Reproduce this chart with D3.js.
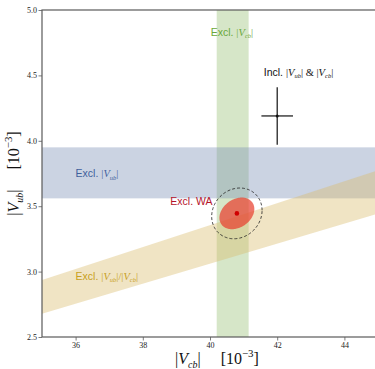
<!DOCTYPE html>
<html>
<head>
<meta charset="utf-8">
<script src="https://cdn.jsdelivr.net/npm/d3@7"></script>
<style>
  html, body { margin: 0; padding: 0; background: #fff; }
  svg { display: block; }
</style>
</head>
<body>
<svg id="chart" width="375" height="369"></svg>
<script>
/*
 |Vub| vs |Vcb| exclusion bands
*/

// axis ticks (in units of 10^-3)
const xTicks = [36, 38, 40, 42, 44];
const yTicks = [2.5, 3.0, 3.5, 4.0, 4.5, 5.0];
const xDomain = [35, 45];
const yDomain = [2.5, 5.0];

// exclusive |Vcb| band, exclusive |Vub| band, exclusive ratio band
const vcbExcl = [40.2, 41.15];
const vubExcl = [3.56, 3.95];
const ratioExcl = [0.0765, 0.0839];   // |Vub|/|Vcb|

// inclusive point with errors: [value, error]
const vcbIncl = [42.0, 0.47];
const vubIncl = [4.19, 0.22];

// exclusive world average: centre, half extents, correlation
const waCentre = [40.80, 3.445];
const waInner = { sx: 0.52, sy: 0.121, rho: 0.28 };
const waOuter = { sx: 0.75, sy: 0.194, rho: 0.12 };

const W = 375, H = 369;
const margin = { top: 10, bottom: 32, left: 42, right: -3 };

const serif = "'Liberation Serif', 'DejaVu Serif', serif";
const sans = "'Liberation Sans', Arial, sans-serif";

const svg = d3.select("#chart");

const x = d3.scaleLinear().domain(xDomain).range([margin.left, W - margin.right]);
const y = d3.scaleLinear().domain(yDomain).range([H - margin.bottom, margin.top]);

svg.append("defs").append("clipPath").attr("id", "plotclip")
    .append("rect")
    .attr("x", x(xDomain[0])).attr("y", y(yDomain[1]))
    .attr("width", x(xDomain[1]) - x(xDomain[0]))
    .attr("height", y(yDomain[0]) - y(yDomain[1]));

const plot = svg.append("g").attr("clip-path", "url(#plotclip)");

// green: exclusive |Vcb|
plot.append("rect")
    .attr("x", x(vcbExcl[0]))
    .attr("y", y(yDomain[1]))
    .attr("width", x(vcbExcl[1]) - x(vcbExcl[0]))
    .attr("height", y(yDomain[0]) - y(yDomain[1]))
    .attr("fill", "#98c075").attr("fill-opacity", 0.4);

// blue: exclusive |Vub|
plot.append("rect")
    .attr("x", x(xDomain[0]))
    .attr("y", y(vubExcl[1]))
    .attr("width", x(xDomain[1]) - x(xDomain[0]))
    .attr("height", y(vubExcl[0]) - y(vubExcl[1]))
    .attr("fill", "#7d91b6").attr("fill-opacity", 0.4);

// yellow: ratio band, lines through the origin
const ratioPoly = [
    [xDomain[0], ratioExcl[0] * xDomain[0]],
    [xDomain[1], ratioExcl[0] * xDomain[1]],
    [xDomain[1], ratioExcl[1] * xDomain[1]],
    [xDomain[0], ratioExcl[1] * xDomain[0]],
];
plot.append("path")
    .attr("d", d3.line().x(d => x(d[0])).y(d => y(d[1]))(ratioPoly) + "Z")
    .attr("fill", "#d9bb6b").attr("fill-opacity", 0.4);

// world average ellipses
function ellipsePath(c, e) {
    const pts = d3.range(0, 361, 3).map(a => {
        const t = a * Math.PI / 180;
        return [
            c[0] + e.sx * Math.cos(t),
            c[1] + e.sy * (e.rho * Math.cos(t) + Math.sqrt(1 - e.rho * e.rho) * Math.sin(t))
        ];
    });
    return d3.line().x(d => x(d[0])).y(d => y(d[1]))(pts) + "Z";
}

plot.append("path")
    .attr("d", ellipsePath(waCentre, waInner))
    .attr("fill", "#e8402f").attr("fill-opacity", 0.72);

plot.append("path")
    .attr("d", ellipsePath(waCentre, waOuter))
    .attr("fill", "none")
    .attr("stroke", "#222").attr("stroke-width", 0.8)
    .attr("stroke-dasharray", "3,2");

plot.append("circle")
    .attr("cx", x(waCentre[0])).attr("cy", y(waCentre[1]))
    .attr("r", 2.3).attr("fill", "#d00000");

// inclusive cross
const cross = plot.append("g").attr("stroke", "#111").attr("stroke-width", 1.2);
cross.append("line")
    .attr("x1", x(vcbIncl[0] - vcbIncl[1])).attr("x2", x(vcbIncl[0] + vcbIncl[1]))
    .attr("y1", y(vubIncl[0])).attr("y2", y(vubIncl[0]));
cross.append("line")
    .attr("x1", x(vcbIncl[0])).attr("x2", x(vcbIncl[0]))
    .attr("y1", y(vubIncl[0] - vubIncl[1])).attr("y2", y(vubIncl[0] + vubIncl[1]));
plot.append("circle")
    .attr("cx", x(vcbIncl[0])).attr("cy", y(vubIncl[0]))
    .attr("r", 1.5).attr("fill", "#111");

// frame
svg.append("rect")
    .attr("x", x(xDomain[0])).attr("y", y(yDomain[1]))
    .attr("width", x(xDomain[1]) - x(xDomain[0]))
    .attr("height", y(yDomain[0]) - y(yDomain[1]))
    .attr("fill", "none").attr("stroke", "#5a5a5a").attr("stroke-width", 1.2);

// axes
const xAxis = svg.append("g")
    .attr("transform", `translate(0,${y(yDomain[0])})`)
    .call(d3.axisBottom(x).tickValues(xTicks).tickSize(3.5).tickPadding(2).tickFormat(d3.format("d")));
const yAxis = svg.append("g")
    .attr("transform", `translate(${x(xDomain[0])},0)`)
    .call(d3.axisLeft(y).tickValues(yTicks).tickSize(3.5).tickPadding(1.5).tickFormat(d3.format(".1f")));

[xAxis, yAxis].forEach(g => {
    g.select(".domain").remove();
    g.selectAll(".tick line").attr("stroke", "#5a5a5a").attr("stroke-width", 0.8);
    g.selectAll(".tick text")
        .attr("font-family", serif).attr("font-size", 8).attr("fill", "#222");
});

// math-ish label helper: pieces of [text, kind]
function mathText(sel, parts, size) {
    parts.forEach(p => {
        const [txt, kind] = p;
        const t = sel.append("tspan").text(txt);
        if (kind === "sans") {
            t.attr("font-family", sans);
        } else if (kind === "it") {
            t.attr("font-family", serif).attr("font-style", "italic");
        } else if (kind === "sub") {
            t.attr("font-family", serif).attr("font-style", "italic")
                .attr("font-size", size * 0.62).attr("dy", size * 0.22);
        } else if (kind === "sup") {
            t.attr("font-family", serif)
                .attr("font-size", size * 0.68).attr("dy", -size * 0.42);
        } else if (kind === "up") {
            // back to baseline after sub
            t.attr("font-family", serif).attr("dy", -size * 0.22);
        } else if (kind === "down") {
            t.attr("font-family", serif).attr("dy", size * 0.42);
        } else {
            t.attr("font-family", serif);
        }
    });
}

// axis titles
const xTitle = svg.append("text")
    .attr("x", 217).attr("y", 364)
    .attr("text-anchor", "middle")
    .attr("font-size", 16).attr("fill", "#111");
mathText(xTitle, [["|", "rm"], ["V", "it"], ["cb", "sub"], ["|", "up"],
    ["\u2003 [10", "rm"], ["\u22123", "sup"], ["]", "down"]], 16);

const yTitle = svg.append("text")
    .attr("transform", `translate(19,${(y(yDomain[0]) + y(yDomain[1])) / 2}) rotate(-90)`)
    .attr("text-anchor", "middle")
    .attr("font-size", 16).attr("fill", "#111");
mathText(yTitle, [["|", "rm"], ["V", "it"], ["ub", "sub"], ["|", "up"],
    ["\u2003 [10", "rm"], ["\u22123", "sup"], ["]", "down"]], 16);

// annotations, placed in data coordinates
const labels = [
    { at: [40.02, 4.80], color: "#6aa83a",
      parts: [["Excl. ", "sans"], ["|", "rm"], ["V", "it"], ["cb", "sub"], ["|", "up"]] },
    { at: [41.6, 4.495], color: "#111",
      parts: [["Incl. ", "sans"], ["|", "rm"], ["V", "it"], ["ub", "sub"], ["|", "up"],
              [" & ", "rm"], ["|", "rm"], ["V", "it"], ["cb", "sub"], ["|", "up"]] },
    { at: [36.0, 3.72], color: "#3f5f9c",
      parts: [["Excl. ", "sans"], ["|", "rm"], ["V", "it"], ["ub", "sub"], ["|", "up"]] },
    { at: [38.82, 3.51], color: "#b5142a",
      parts: [["Excl. WA", "sans"]] },
    { at: [36.0, 2.935], color: "#c8a020",
      parts: [["Excl. ", "sans"], ["|", "rm"], ["V", "it"], ["ub", "sub"], ["|", "up"],
              ["/", "rm"], ["|", "rm"], ["V", "it"], ["cb", "sub"], ["|", "up"]] },
];

labels.forEach(l => {
    const t = svg.append("text")
        .attr("x", x(l.at[0])).attr("y", y(l.at[1]))
        .attr("font-size", 10.5).attr("fill", l.color);
    mathText(t, l.parts, 10.5);
});
</script>
</body>
</html>
